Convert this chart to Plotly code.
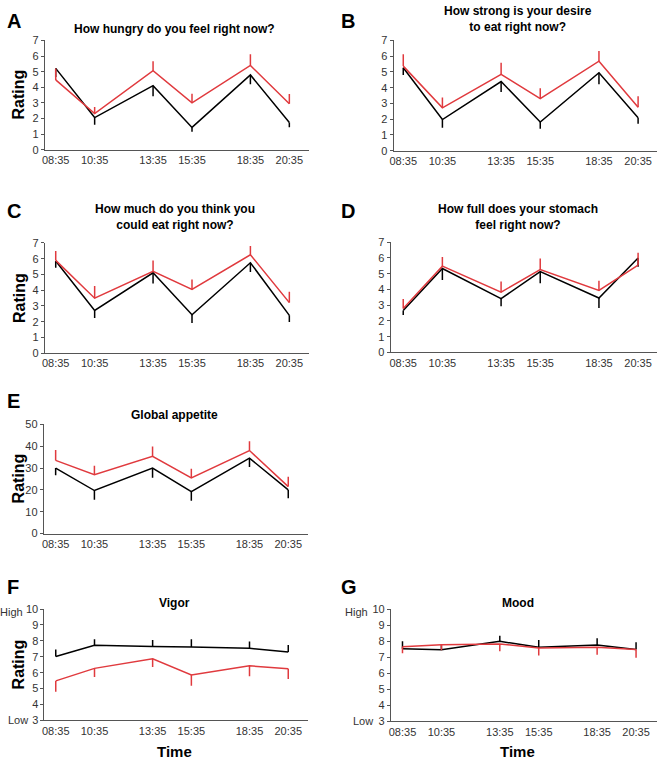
import plotly.graph_objects as go

W, H = 659, 765

time_labels = ["08:35", "10:35", "13:35", "15:35", "18:35", "20:35"]
time_hours = [8 + 35/60, 10 + 35/60, 13 + 35/60, 15 + 35/60, 18 + 35/60, 20 + 35/60]

# Panel A: hunger
a_black = [5.21, 2.06, 4.10, 1.43, 4.79, 1.74]
a_black_err = [0.55, 0.46, 0.68, 0.28, 0.60, 0.30]
a_red = [4.47, 2.31, 5.06, 3.00, 5.40, 2.94]
a_red_err = [0.73, 0.42, 0.61, 0.59, 0.71, 0.63]

# Panel B: desire to eat
b_black = [5.27, 1.98, 4.39, 1.82, 4.95, 2.09]
b_black_err = [0.47, 0.52, 0.67, 0.42, 0.73, 0.38]
b_red = [5.37, 2.72, 4.85, 3.30, 5.68, 2.76]
b_red_err = [0.75, 0.66, 0.73, 0.67, 0.65, 0.69]

# Panel C: how much could eat
c_black = [5.85, 2.71, 5.10, 2.44, 5.74, 2.40]
c_black_err = [0.42, 0.48, 0.67, 0.52, 0.58, 0.42]
c_red = [5.89, 3.49, 5.20, 4.05, 6.25, 3.21]
c_red_err = [0.59, 0.77, 0.69, 0.63, 0.55, 0.69]

# Panel D: fullness
d_black = [2.67, 5.33, 3.42, 5.13, 3.46, 6.00]
d_black_err = [0.29, 0.73, 0.48, 0.73, 0.63, 0.56]
d_red = [2.79, 5.48, 3.83, 5.27, 3.94, 5.54]
d_red_err = [0.61, 0.58, 0.67, 0.69, 0.62, 0.79]

# Panel E: global appetite
e_black = [30.0, 19.7, 30.0, 19.2, 34.5, 20.0]
e_black_err = [3.3, 4.2, 4.5, 4.2, 4.0, 3.8]
e_red = [33.5, 27.0, 35.4, 25.5, 38.0, 21.5]
e_red_err = [4.8, 4.1, 4.4, 4.2, 4.2, 4.5]

# Panel F: vigor
f_black = [7.02, 7.72, 7.64, 7.62, 7.53, 7.30]
f_black_err = [0.43, 0.38, 0.42, 0.48, 0.43, 0.44]
f_red = [5.48, 6.27, 6.87, 5.86, 6.43, 6.25]
f_red_err = [0.68, 0.54, 0.51, 0.68, 0.66, 0.65]

# Panel G: mood
g_black = [7.53, 7.47, 8.00, 7.63, 7.77, 7.49]
g_black_err = [0.47, 0.30, 0.35, 0.45, 0.43, 0.45]
g_red = [7.67, 7.79, 7.84, 7.59, 7.63, 7.49]
g_red_err = [0.41, 0.34, 0.46, 0.47, 0.47, 0.52]

BLACK = "#000000"
RED = "#e03a3e"
AXC = "#555555"
FONT = "Liberation Sans, Arial, sans-serif"

panels = [
    ("A", "How hungry do you feel right now?", a_black, a_black_err, False, a_red, a_red_err, True,
     41, 307, 35, 146, [8.02, 21.60], [0, 7], list(range(0, 8))),
    ("B", "How strong is your desire<br>to eat right now?", b_black, b_black_err, False, b_red, b_red_err, True,
     392, 657, 35, 147, [8.09, 21.55], [0, 7], list(range(0, 8))),
    ("C", "How much do you think you<br>could eat right now?", c_black, c_black_err, False, c_red, c_red_err, True,
     41, 307, 240.7, 352.7, [8.02, 21.60], [0, 7], list(range(0, 8))),
    ("D", "How full does your stomach<br>feel right now?", d_black, d_black_err, False, d_red, d_red_err, True,
     389, 657, 240, 352, [7.94, 21.55], [0, 7], list(range(0, 8))),
    ("E", "Global appetite", e_black, e_black_err, False, e_red, e_red_err, True,
     40, 306, 425, 536, [7.97, 21.61], [0, 50], list(range(0, 51, 10))),
    ("F", "Vigor", f_black, f_black_err, True, f_red, f_red_err, False,
     40.7, 306, 612.7, 725.7, [8.0, 21.61], [3, 10], list(range(3, 11))),
    ("G", "Mood", g_black, g_black_err, True, g_red, g_red_err, False,
     389.3, 657, 613, 726.7, [7.99, 21.66], [3, 10], list(range(3, 11))),
]

title_pos = {"A": (172, 23), "B": (517, 13), "C": (172, 214.5), "D": (517, 214.5),
             "E": (172, 416), "F": (172, 607), "G": (517, 607)}
letter_pos = {"A": (1, 15), "B": (337, 15), "C": (1, 208.5), "D": (337, 208.5),
              "E": (1, 401.5), "F": (1, 590), "G": (337, 590)}

fig = go.Figure()
annotations = []
layout = {}


def err(vals, up):
    zeros = [0] * len(vals)
    if up:
        return dict(type="data", symmetric=False, array=vals, arrayminus=zeros)
    return dict(type="data", symmetric=False, array=zeros, arrayminus=vals)


for i, (pid, title, blk, blk_e, blk_up, red, red_e, red_up,
        xl, xr, yt, yb, xrng, yrng, ytv) in enumerate(panels):
    n = "" if i == 0 else str(i + 1)
    xa, ya = "x" + n, "y" + n
    for vals, evals, up, col in ((blk, blk_e, blk_up, BLACK), (red, red_e, red_up, RED)):
        e = err(evals, up)
        e.update(color=col, thickness=1.5, width=0)
        fig.add_trace(go.Scatter(x=time_hours, y=vals, mode="lines", xaxis=xa, yaxis=ya,
                                 line=dict(color=col, width=1.5), error_y=e,
                                 showlegend=False, hoverinfo="skip"))
    layout["xaxis" + n] = dict(
        domain=[xl / W, xr / W], range=xrng, anchor=ya,
        tickvals=time_hours, ticktext=time_labels, ticks="",
        showline=True, linecolor=AXC, linewidth=1, showgrid=False, zeroline=False,
        tickfont=dict(size=11, color="#333333", family=FONT), fixedrange=True)
    layout["yaxis" + n] = dict(
        domain=[1 - yb / H, 1 - yt / H], range=yrng, anchor=xa,
        tickvals=ytv, ticks="outside", ticklen=3, tickcolor=AXC, tickwidth=1,
        showline=True, linecolor=AXC, linewidth=1, showgrid=False, zeroline=False,
        tickfont=dict(size=11, color="#333333", family=FONT), fixedrange=True)
    tx, ty = title_pos[pid]
    annotations.append(dict(text="<b>%s</b>" % title, x=tx / W, y=1 - ty / H, xref="paper", yref="paper",
                            showarrow=False, xanchor="center", yanchor="middle",
                            font=dict(size=12, color="#000", family=FONT)))
    lx, ly = letter_pos[pid]
    annotations.append(dict(text="<b>%s</b>" % pid, x=lx / W, y=1 - ly / H, xref="paper", yref="paper",
                            showarrow=False, xanchor="left", yanchor="middle",
                            font=dict(size=20, color="#000", family=FONT)))

for cy in (90, 296.7, 480, 669):
    annotations.append(dict(text="<b>Rating</b>", x=15 / W, y=1 - cy / H, xref="paper", yref="paper",
                            showarrow=False, textangle=-90, xanchor="center", yanchor="middle",
                            font=dict(size=16, color="#000", family=FONT)))
for cx in (172, 517):
    annotations.append(dict(text="<b>Time</b>", x=cx / W, y=1 - 757 / H, xref="paper", yref="paper",
                            showarrow=False, xanchor="center", yanchor="middle",
                            font=dict(size=15, color="#000", family=FONT)))
for hx, hy, lx2, ly2 in ((21, 616, 26, 725), (368, 616, 373, 726)):
    annotations.append(dict(text="High", x=hx / W, y=1 - hy / H, xref="paper", yref="paper",
                            showarrow=False, xanchor="right", yanchor="middle",
                            font=dict(size=11, color="#333333", family=FONT)))
    annotations.append(dict(text="Low", x=lx2 / W, y=1 - ly2 / H, xref="paper", yref="paper",
                            showarrow=False, xanchor="right", yanchor="middle",
                            font=dict(size=11, color="#333333", family=FONT)))

fig.update_layout(width=W, height=H, margin=dict(l=0, r=0, t=0, b=0),
                  paper_bgcolor="white", plot_bgcolor="white",
                  font=dict(family=FONT), annotations=annotations, **layout)

fig.write_html("out.html", config={"displayModeBar": False},
               post_script="document.body.style.margin='0';document.body.style.padding='0';"
                           "document.body.style.overflow='hidden';")
